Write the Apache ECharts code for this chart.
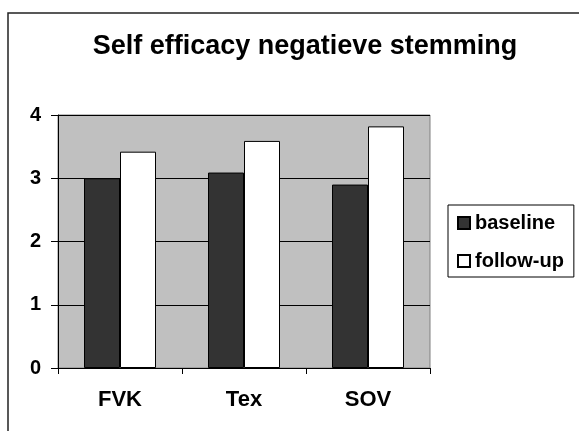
<!DOCTYPE html>
<html>
<head>
<meta charset="utf-8">
<script src="https://cdn.jsdelivr.net/npm/echarts@6/dist/echarts.min.js"></script>
<style>
  html, body { margin: 0; padding: 0; background: #fff; }
  #main { width: 579px; height: 431px; }
</style>
</head>
<body>
<div id="main"></div>
<script>
var categories = ['FVK', 'Tex', 'SOV'];
var baseline = [3.0, 3.09, 2.9];
var followUp = [3.42, 3.59, 3.82];
var yTicks = [0, 1, 2, 3, 4];

var chartDom = document.getElementById('main');
var myChart = echarts.init(chartDom);
var chart1;

var font = 'Liberation Sans, Arial, sans-serif';

chart1 = {
  animation: false,
  title: {
    text: 'Self efficacy negatieve stemming',
    left: 300,
    textAlign: 'center',
    top: 28,
    textStyle: {
      fontFamily: font,
      fontSize: 27,
      fontWeight: 'bold',
      color: '#000'
    }
  },
  legend: {
    data: ['baseline', 'follow-up'],
    orient: 'vertical',
    left: 448,
    top: 205,
    padding: [8, 10, 6, 9],
    itemGap: 18,
    itemWidth: 12,
    itemHeight: 12,
    icon: 'rect',
    borderColor: '#000',
    borderWidth: 1,
    textStyle: {
      fontFamily: font,
      fontSize: 20,
      fontWeight: 'bold',
      color: '#000'
    }
  },
  grid: {
    left: 58,
    top: 115,
    width: 372,
    height: 253,
    show: true,
    backgroundColor: '#c0c0c0',
    borderColor: '#808080',
    borderWidth: 1
  },
  xAxis: {
    type: 'category',
    data: categories,
    axisLine: { lineStyle: { color: '#000', width: 1 } },
    axisTick: { show: true, length: 6, inside: false, lineStyle: { color: '#000' } },
    axisLabel: {
      margin: 21,
      fontFamily: font,
      fontSize: 22,
      fontWeight: 'bold',
      color: '#000'
    }
  },
  yAxis: {
    type: 'value',
    min: yTicks[0],
    max: yTicks[yTicks.length - 1],
    interval: 1,
    axisLine: { show: true, lineStyle: { color: '#000', width: 1 } },
    axisTick: { show: true, length: 7, lineStyle: { color: '#000' } },
    splitLine: { lineStyle: { color: '#000', width: 1 } },
    axisLabel: {
      margin: 17,
      fontFamily: font,
      fontSize: 20,
      fontWeight: 'bold',
      color: '#000'
    }
  },
  series: [
    {
      name: 'baseline',
      type: 'bar',
      data: baseline,
      barWidth: 36,
      barGap: '0%',
      itemStyle: { color: '#333333', borderColor: '#000', borderWidth: 1 }
    },
    {
      name: 'follow-up',
      type: 'bar',
      data: followUp,
      barWidth: 36,
      barGap: '0%',
      itemStyle: { color: '#ffffff', borderColor: '#000', borderWidth: 1 }
    }
  ],
  graphic: [
    {
      type: 'polyline',
      shape: { points: [[8, 440], [8, 13], [590, 13]] },
      style: { stroke: '#222', lineWidth: 1.5, fill: null }
    }
  ]
};

chart1 && myChart.setOption(chart1);
</script>
</body>
</html>
